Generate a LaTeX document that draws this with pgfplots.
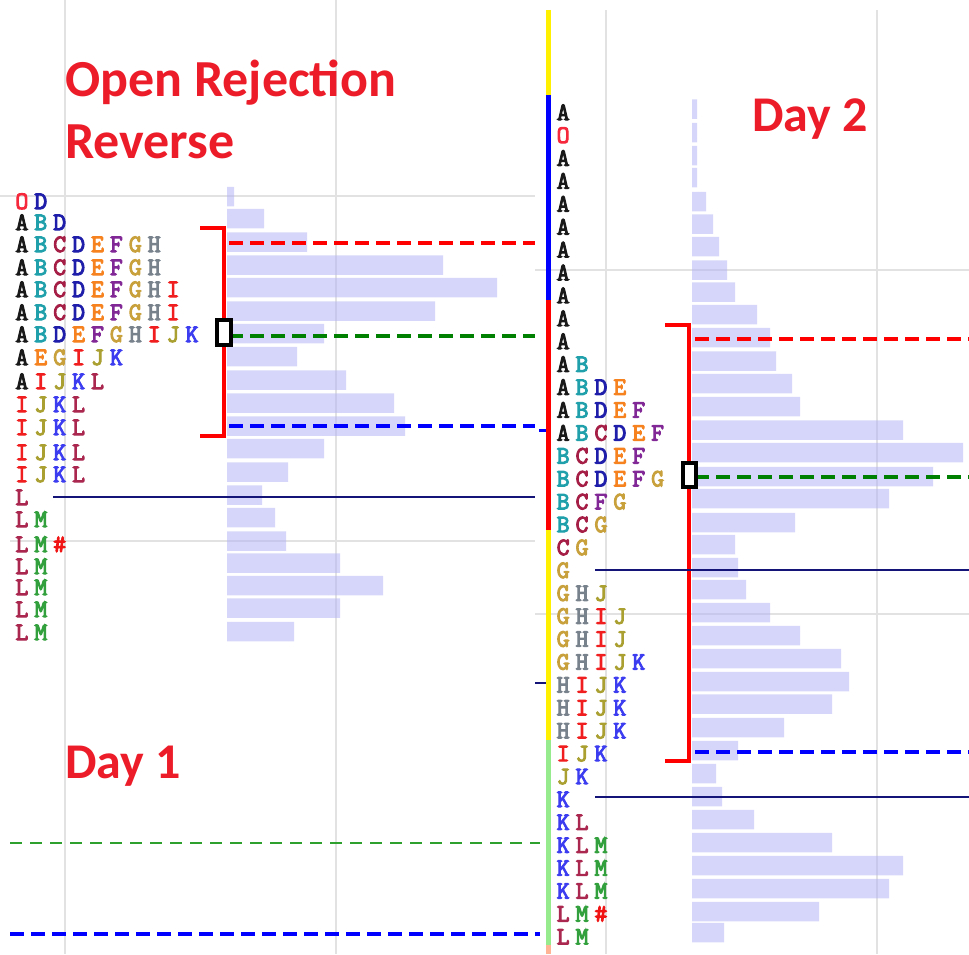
\documentclass[border=0pt]{standalone}
\usepackage{fontspec}
\usepackage{pgfplots}
\pgfplotsset{compat=1.18}
\setmainfont{Carlito}
\newfontfamily\tpofont[FakeBold=4]{Latin Modern Mono}

% letter colours (one per half hour period)
\definecolor{lA}{RGB}{25,25,25}
\definecolor{lB}{RGB}{32,160,170}
\definecolor{lC}{RGB}{165,30,70}
\definecolor{lD}{RGB}{30,30,170}
\definecolor{lE}{RGB}{245,130,30}
\definecolor{lF}{RGB}{130,40,150}
\definecolor{lG}{RGB}{200,160,60}
\definecolor{lH}{RGB}{120,130,140}
\definecolor{lI}{RGB}{240,30,30}
\definecolor{lJ}{RGB}{170,160,50}
\definecolor{lK}{RGB}{60,60,240}
\definecolor{lL}{RGB}{170,40,80}
\definecolor{lM}{RGB}{50,160,60}
\definecolor{lO}{RGB}{245,40,60}
\definecolor{lX}{RGB}{240,20,20}
\definecolor{titlered}{RGB}{236,28,40}
\definecolor{gridc}{RGB}{226,226,226}
\definecolor{barc}{RGB}{180,180,245}
\definecolor{dkgreen}{RGB}{0,128,0}
\definecolor{midgreen}{RGB}{45,160,45}
\definecolor{navyc}{RGB}{20,20,120}
\definecolor{lgreen}{RGB}{150,235,140}
\definecolor{salmon}{RGB}{255,180,150}
\definecolor{yel}{RGB}{255,240,0}

\newcommand\tc[2]{\makebox[18.9pt][c]{\textcolor{#1}{#2}}}
\protected\def\mpA{\tc{lA}{A}}
\protected\def\mpB{\tc{lB}{B}}
\protected\def\mpC{\tc{lC}{C}}
\protected\def\mpD{\tc{lD}{D}}
\protected\def\mpE{\tc{lE}{E}}
\protected\def\mpF{\tc{lF}{F}}
\protected\def\mpG{\tc{lG}{G}}
\protected\def\mpH{\tc{lH}{H}}
\protected\def\mpI{\tc{lI}{I}}
\protected\def\mpJ{\tc{lJ}{J}}
\protected\def\mpK{\tc{lK}{K}}
\protected\def\mpL{\tc{lL}{L}}
\protected\def\mpM{\tc{lM}{M}}
\protected\def\mpO{\tc{lO}{O}}
\protected\def\mpX{\tc{lX}{\#}}

\pgfplotsset{
  px/.style={scale only axis, width=969pt, height=954pt, hide axis,
    y dir=reverse, ymin=0, ymax=954, at={(0,0)}, anchor=south west},
  dsh/.style={line width=4pt, dash pattern=on 14pt off 7pt},
  prof/.style={xbar, bar width=19.5, bar shift=0pt, draw=none,
    fill=barc, fill opacity=0.55},
  tpo/.style={draw=none, point meta=explicit symbolic,
    nodes near coords={\pgfplotspointmeta},
    nodes near coords style={anchor=base west, inner sep=0pt,
      font=\tpofont\fontsize{25}{25}\selectfont}},
}

\begin{document}
\begin{tikzpicture}
% grid
\begin{axis}[px, xmin=0, xmax=969]
\addplot[gridc, line width=2pt] coordinates {(65,0) (65,954)};
\addplot[gridc, line width=2pt] coordinates {(336,0) (336,954)};
\addplot[gridc, line width=2pt] coordinates {(606,10) (606,954)};
\addplot[gridc, line width=2pt] coordinates {(877,10) (877,954)};
\addplot[gridc, line width=2pt] coordinates {(0,196) (535,196)};
\addplot[gridc, line width=2pt] coordinates {(10,541) (535,541)};
\addplot[gridc, line width=2pt] coordinates {(535,270) (969,270)};
\addplot[gridc, line width=2pt] coordinates {(535,614) (969,614)};
\end{axis}

% Day 1 volume profile
\begin{axis}[px, xmin=-227, xmax=742]
\addplot[prof] coordinates {
(7,196.5) (37,218.5) (80,242) (216,265) (270,287.5) (208,311) (97,333.5)
(70,356.5) (119,380) (167,403) (178,426) (97,448.5) (61,472) (35,495)
(48,517.5) (59,541) (113,563) (156,585.5) (113,608) (67,631.5)};
\end{axis}

% Day 2 volume profile
\begin{axis}[px, xmin=-692, xmax=277]
\addplot[prof] coordinates {
(5,109) (5,132.5) (5,155.5) (5,177.5) (14,201.5) (21,224) (27,246.5)
(35,270) (43,292) (65,314.5) (78,337.5) (84,361) (100,383.5) (108,406.5)
(211,430) (271,452.5) (241,476.5) (197,498.5) (103,522.5) (43,544.5)
(46,567.5) (54,589.5) (78,612.5) (108,635.5) (149,658.5) (157,681.5)
(140,704) (92,727.5) (46,750.5) (24,773.5) (30,796.5) (62,819.5)
(140,842.5) (211,865.5) (197,888.5) (127,911.5) (32,932.5)};
\end{axis}

% levels, letters, titles
\begin{axis}[px, xmin=0, xmax=969]
% value area brackets
\addplot[red, line width=4pt] coordinates {(200,228) (224,228) (224,436) (200,436)};
\addplot[red, line width=4pt] coordinates {(665,325) (689,325) (689,761) (665,761)};
% VAH / POC / VAL
\addplot[red, dsh] coordinates {(229,243) (535,243)};
\addplot[dkgreen, dsh] coordinates {(229,336) (535,336)};
\addplot[blue, dsh] coordinates {(229,426) (535,426)};
\addplot[red, dsh] coordinates {(695,339) (969,339)};
\addplot[dkgreen, dsh] coordinates {(695,477) (969,477)};
\addplot[blue, dsh] coordinates {(695,752) (969,752)};
\addplot[midgreen, line width=2.5pt, dash pattern=on 12pt off 8pt] coordinates {(10,843) (540,843)};
\addplot[blue, dsh] coordinates {(10,934) (540,934)};
% single prints
\addplot[navyc, line width=2.5pt] coordinates {(53,497) (535,497)};
\addplot[navyc, line width=2.5pt] coordinates {(595,570) (969,570)};
\addplot[navyc, line width=2.5pt] coordinates {(595,797) (969,797)};
% POC boxes
\addplot[black, line width=3.5pt, fill=white] coordinates {(217,320) (231,320) (231,345) (217,345)} -- cycle;
\addplot[black, line width=3.5pt, fill=white] coordinates {(683,463) (696,463) (696,487) (683,487)} -- cycle;
% period colour column
\addplot[yel, line width=5pt] coordinates {(548,10) (548,95)};
\addplot[blue, line width=5pt] coordinates {(548,95) (548,300)};
\addplot[red, line width=5pt] coordinates {(548,300) (548,530)};
\addplot[yel, line width=5pt] coordinates {(548,530) (548,740)};
\addplot[lgreen, line width=5pt] coordinates {(548,740) (548,945)};
\addplot[salmon, line width=5pt] coordinates {(548,945) (548,954)};
\addplot[blue, line width=3pt] coordinates {(539,430) (546,430)};
\addplot[navyc, line width=2pt] coordinates {(535,683) (546,683)};

% Day 1 letters
\addplot[tpo] table[meta=t] {
x y t
12.25 209 \mpO\mpD
12.25 230 \mpA\mpB\mpD
12.25 252 \mpA\mpB\mpC\mpD\mpE\mpF\mpG\mpH
12.25 275 \mpA\mpB\mpC\mpD\mpE\mpF\mpG\mpH
12.25 297 \mpA\mpB\mpC\mpD\mpE\mpF\mpG\mpH\mpI
12.25 320 \mpA\mpB\mpC\mpD\mpE\mpF\mpG\mpH\mpI
12.25 342 \mpA\mpB\mpD\mpE\mpF\mpG\mpH\mpI\mpJ\mpK
12.25 365 \mpA\mpE\mpG\mpI\mpJ\mpK
12.25 389 \mpA\mpI\mpJ\mpK\mpL
12.25 412 \mpI\mpJ\mpK\mpL
12.25 435 \mpI\mpJ\mpK\mpL
12.25 460 \mpI\mpJ\mpK\mpL
12.25 482 \mpI\mpJ\mpK\mpL
12.25 505 \mpL
12.25 527 \mpL\mpM
12.25 552 \mpL\mpM\mpX
12.25 574 \mpL\mpM
12.25 595 \mpL\mpM
12.25 617 \mpL\mpM
12.25 640 \mpL\mpM
};

% Day 2 letters
\addplot[tpo] table[meta=t] {
x y t
553.5 120 \mpA
553.5 142.9 \mpO
553.5 165.8 \mpA
553.5 188.7 \mpA
553.5 211.6 \mpA
553.5 234.5 \mpA
553.5 257.4 \mpA
553.5 280.3 \mpA
553.5 303.2 \mpA
553.5 326.1 \mpA
553.5 349 \mpA
553.5 371.9 \mpA\mpB
553.5 394.8 \mpA\mpB\mpD\mpE
553.5 417.7 \mpA\mpB\mpD\mpE\mpF
553.5 440.6 \mpA\mpB\mpC\mpD\mpE\mpF
553.5 463.5 \mpB\mpC\mpD\mpE\mpF
553.5 486.4 \mpB\mpC\mpD\mpE\mpF\mpG
553.5 509.3 \mpB\mpC\mpF\mpG
553.5 532.2 \mpB\mpC\mpG
553.5 555.1 \mpC\mpG
553.5 578 \mpG
553.5 600.9 \mpG\mpH\mpJ
553.5 623.8 \mpG\mpH\mpI\mpJ
553.5 646.7 \mpG\mpH\mpI\mpJ
553.5 669.6 \mpG\mpH\mpI\mpJ\mpK
553.5 692.5 \mpH\mpI\mpJ\mpK
553.5 715.4 \mpH\mpI\mpJ\mpK
553.5 738.3 \mpH\mpI\mpJ\mpK
553.5 761.2 \mpI\mpJ\mpK
553.5 784.1 \mpJ\mpK
553.5 807 \mpK
553.5 829.9 \mpK\mpL
553.5 852.8 \mpK\mpL\mpM
553.5 875.7 \mpK\mpL\mpM
553.5 898.6 \mpK\mpL\mpM
553.5 921.5 \mpL\mpM\mpX
553.5 944.4 \mpL\mpM
};

% titles
\node[anchor=base west, inner sep=0pt, text=titlered, font=\bfseries\fontsize{52}{52}\selectfont] at (axis cs:65,96) {Open Rejection};
\node[anchor=base west, inner sep=0pt, text=titlered, font=\bfseries\fontsize{52}{52}\selectfont] at (axis cs:65,158) {Reverse};
\node[anchor=base west, inner sep=0pt, text=titlered, font=\bfseries\fontsize{50}{50}\selectfont] at (axis cs:65,778) {Day 1};
\node[anchor=base west, inner sep=0pt, text=titlered, font=\bfseries\fontsize{50}{50}\selectfont] at (axis cs:752,131) {Day 2};
\end{axis}
\end{tikzpicture}
\end{document}
